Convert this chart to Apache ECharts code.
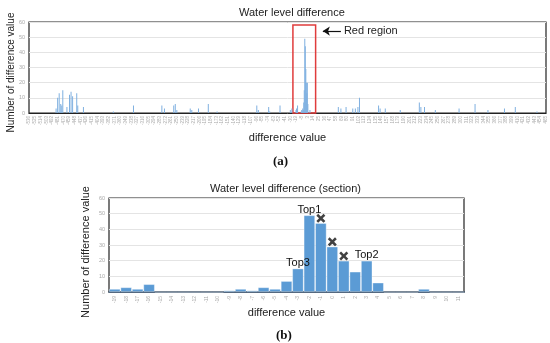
<!DOCTYPE html>
<html><head><meta charset="utf-8">
<script src="https://cdn.jsdelivr.net/npm/echarts@6/dist/echarts.min.js"></script>
<style>html,body{margin:0;padding:0;background:#fff}#c{width:550px;height:343px}</style>
</head><body><div id="c"></div>
<script>
// ---- data ----
const fullMin = -536, fullMax = 465;           // category range of chart (a)
const outerDiffs = [-484,-481,-478,-475,-473,-471,-463,-458,-455,-452,-444,-442,-431,-373,-334,-279,-274,-256,-253,-250,-224,-221,-208,-189,-172,-95,-92,-72,-70,-50,-30,-27,63,68,78,91,96,101,104,141,144,154,183,220,223,230,251,297,328,353,385,406,448];
const outerCounts = [3,10,13,6,5,15,4,12,14,11,13,5,4,1,5,5,3,5,6,2,3,2,3,6,1,5,2,4,1,5,2,3,4,3,4,3,3,4,10,5,3,3,2,7,4,4,2,3,6,2,3,4,1];
const sectionCats = ['-19','-18','-17','-16','-15','-14','-13','-12','-11','-10','-9','-8','-7','-6','-5','-4','-3','-2','-1','0','1','2','3','4','5','6','7','8','9','10','11'];
const sectionCounts = [2,3,2,5,0,0,0,0,0,0,1,2,1,3,2,7,15,49,44,29,20,13,20,6,0,0,0,2,0,0,0];
const topDiffs = ['-2','3','-3'];
const topNames = ['Top1','Top2','Top3'];
const crossDiffs = ['-1','0','1'];
const crossValues = [47,32,23];
const redBox = ['-22','23',58];
const arrowFrom = ['68',54], arrowTo = ['33',54];

// ---- build ----
const fullCats = [];
for (let v = fullMin; v <= fullMax; v++) fullCats.push(String(v));
const fullCounts = fullCats.map(() => 0);
outerDiffs.forEach((d,i) => { fullCounts[d - fullMin] = outerCounts[i]; });
sectionCats.forEach((c,i) => { fullCounts[Number(c) - fullMin] = sectionCounts[i]; });

const F = 'Liberation Sans, Arial, sans-serif';
const sectionData = sectionCats.map((c,i) => {
  const k = topDiffs.indexOf(c);
  return k < 0 ? sectionCounts[i] : {value: sectionCounts[i], label: {show: true, formatter: topNames[k]}};
});

const yAxisBase = (gi, gap, fs, pad) => ({
  gridIndex: gi, type: 'value', min: 0, max: 60, interval: 10,
  axisLine: {show: false}, axisTick: {show: false},
  axisLabel: {fontSize: 5.5, color: '#aaa', margin: 4, fontFamily: F},
  splitLine: {lineStyle: {color: '#e4e4e4', width: 1}},
  name: 'Number of difference value', nameLocation: 'middle', nameGap: gap, nameMoveOverlap: false,
  nameTextStyle: {fontSize: fs, color: '#222', fontFamily: F, padding: [0, pad, 0, 0]}
});

const chart = echarts.init(document.getElementById('c'));
chart.setOption({
  animation: false,
  textStyle: {fontFamily: F},
  title: [
    {text: 'Water level difference', left: 234, top: 2, textStyle: {fontSize: 11, fontWeight: 'normal', color: '#222', fontFamily: F}},
    {text: 'Water level difference (section)', left: 205, top: 178, textStyle: {fontSize: 11, fontWeight: 'normal', color: '#222', fontFamily: F}},
    {text: '{p|(}{b|a}{p|)}', left: 268, top: 150, textStyle: {rich: {p: {fontSize: 13, fontFamily: 'Liberation Serif, serif', color: '#111'}, b: {fontSize: 13, fontWeight: 'bold', fontFamily: 'Liberation Serif, serif', color: '#111'}}}},
    {text: '{p|(}{b|b}{p|)}', left: 271, top: 324, textStyle: {rich: {p: {fontSize: 13, fontFamily: 'Liberation Serif, serif', color: '#111'}, b: {fontSize: 13, fontWeight: 'bold', fontFamily: 'Liberation Serif, serif', color: '#111'}}}}
  ],
  grid: [
    {left: 29, right: 4, top: 22, height: 91, show: true, borderColor: '#222', borderWidth: 1.2, containLabel: false, outerBoundsMode: 'none'},
    {left: 109, right: 86, top: 198, height: 94, show: true, borderColor: '#222', borderWidth: 1.2, containLabel: false, outerBoundsMode: 'none'}
  ],
  xAxis: [
    {gridIndex: 0, type: 'category', data: fullCats,
     axisTick: {show: false}, axisLine: {lineStyle: {color: '#222'}},
     axisLabel: {interval: 10, rotate: 90, fontSize: 4.5, color: '#aaa', margin: 3, fontFamily: F},
     name: 'difference value', nameLocation: 'middle', nameGap: 19,
     nameTextStyle: {fontSize: 11, color: '#222', fontFamily: F}},
    {gridIndex: 1, type: 'category', data: sectionCats,
     axisTick: {show: false}, axisLine: {lineStyle: {color: '#1f3b5a', width: 1.6}},
     axisLabel: {interval: 0, rotate: 90, fontSize: 5, color: '#aaa', margin: 4, fontFamily: F},
     name: 'difference value', nameLocation: 'middle', nameGap: 15,
     nameTextStyle: {fontSize: 11, color: '#222', fontFamily: F}}
  ],
  yAxis: [yAxisBase(0, 13, 10, 10), yAxisBase(1, 18, 11, 14)],
  series: [
    {type: 'bar', xAxisIndex: 0, yAxisIndex: 0, data: fullCounts, barWidth: 1,
     itemStyle: {color: '#7fb0e0'},
     markArea: {silent: true, itemStyle: {color: 'rgba(0,0,0,0)', borderColor: '#e03c3c', borderWidth: 1.5},
       data: [[{xAxis: redBox[0], yAxis: 0}, {xAxis: redBox[1], yAxis: redBox[2]}]]},
     markLine: {silent: true, symbol: ['none', 'arrow'], symbolSize: 7,
       lineStyle: {color: '#111', width: 1.2, type: 'solid'},
       label: {show: true, position: 'start', formatter: 'Red region', fontSize: 11, color: '#222', distance: 3, fontFamily: F},
       data: [[{coord: arrowFrom}, {coord: arrowTo}]]}
    },
    {type: 'bar', xAxisIndex: 1, yAxisIndex: 1, data: sectionData, barCategoryGap: '0%',
     itemStyle: {color: '#5b9bd5', borderColor: 'rgba(255,255,255,0.45)', borderWidth: 0.8},
     label: {show: false, position: 'top', distance: 0, fontSize: 11, color: '#111', fontFamily: F}
    },
    {type: 'scatter', xAxisIndex: 1, yAxisIndex: 1,
     data: crossDiffs.map((d,i) => [d, crossValues[i]]),
     symbol: 'path://M0,2 L2,0 L5,3 L8,0 L10,2 L7,5 L10,8 L8,10 L5,7 L2,10 L0,8 L3,5 Z',
     symbolSize: 9, itemStyle: {color: '#111'}, z: 5}
  ]
});
</script></body></html>
